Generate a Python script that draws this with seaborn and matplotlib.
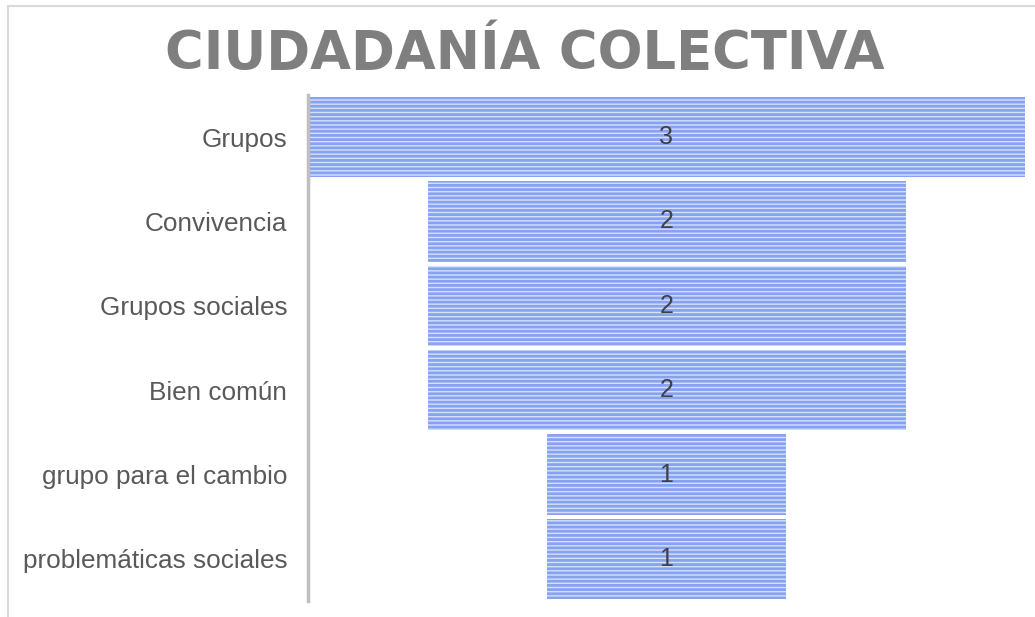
import matplotlib
matplotlib.use("Agg")
import matplotlib.pyplot as plt
import seaborn as sns
import pandas as pd
from matplotlib.patches import Rectangle

# Data
temas = ["Grupos", "Convivencia", "Grupos sociales", "Bien común",
         "grupo para el cambio", "problemáticas sociales"]
valores = [3, 2, 2, 2, 1, 1]
titulo = "CIUDADANÍA COLECTIVA"

df = pd.DataFrame({"tema": temas, "valor": valores})
max_val = max(valores)
# funnel: centre every bar on the widest one
df["inicio"] = (max_val - df["valor"]) / 2

sns.set_theme(style="white")
plt.rcParams["font.family"] = ["Liberation Sans", "DejaVu Sans"]
plt.rcParams["hatch.linewidth"] = 2.0

fig = plt.figure(figsize=(10.35, 6.17), dpi=100)
ax = fig.add_axes([308 / 1035, 1 - 601 / 617, (1025 - 308) / 1035, (601 - 95) / 617])

bars = ax.barh(df["tema"], df["valor"], left=df["inicio"], height=0.95,
               color="#d6e0fc", edgecolor="#87a2f0", linewidth=0, hatch="----")

for y, (v, x0) in enumerate(zip(df["valor"], df["inicio"])):
    ax.text(x0 + v / 2, y, str(v), ha="center", va="center",
            fontsize=18, color="#404040")

ax.set_xlim(0, max_val)
ax.set_ylim(len(temas) - 0.5, -0.5)
ax.set_xticks([])
ax.set_xlabel("")
ax.set_ylabel("")
ax.tick_params(axis="y", length=0, pad=15, labelsize=18.8, labelcolor="#595959")
for s in ["top", "right", "bottom"]:
    ax.spines[s].set_visible(False)
ax.spines["left"].set_color("#bfbfbf")
ax.spines["left"].set_linewidth(2.5)

fig.text(525 / 1035, 1 - 54 / 617, titulo, ha="center", va="center",
         fontsize=38, fontweight="bold", color="#7f7f7f", family="DejaVu Sans")

# chart area border (only top and left visible)
fig.add_artist(Rectangle((8 / 1035, -0.1), 1.2, 1 - 6 / 617 + 0.1,
                         transform=fig.transFigure, fill=False,
                         edgecolor="#d9d9d9", linewidth=1.5))

fig.savefig("out.png", dpi=100)
